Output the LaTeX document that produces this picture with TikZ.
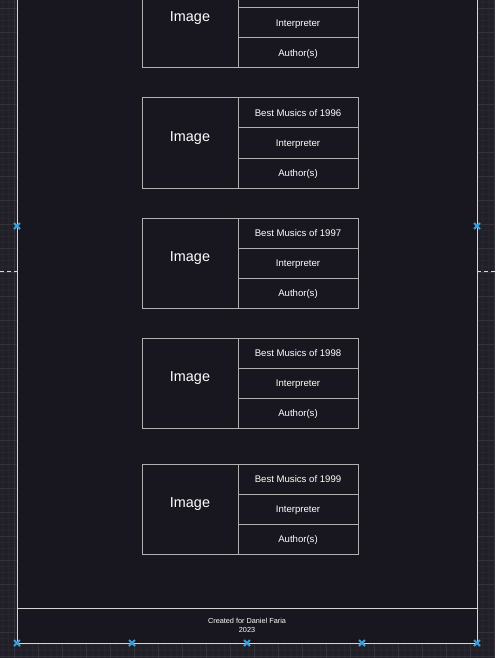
\documentclass[tikz,border=0pt]{standalone}
\usepackage{fontspec}
\setmainfont{Liberation Sans}
\usetikzlibrary{positioning, shapes.misc}
\definecolor{canvasdark}{HTML}{18161F}
\definecolor{canvasgrid}{HTML}{211F27}
\definecolor{gridminor}{HTML}{27252D}
\definecolor{gridmajor}{HTML}{33313A}
\definecolor{framegray}{HTML}{D6D6D6}
\definecolor{cardgray}{HTML}{B0B0B0}
\definecolor{handleblue}{HTML}{3AA0DC}

\begin{document}
\begin{tikzpicture}[
    x=1pt, y=-1pt,
    imgcell/.style={
        draw=cardgray,
        line width=1pt,
        minimum width=96pt,
        minimum height=90pt,
        inner sep=0pt,
        outer sep=0pt,
        text depth=12pt,
        text=white,
        font=\fontsize{14.4}{16}\selectfont
    },
    rowcell/.style={
        draw=cardgray,
        line width=1pt,
        minimum width=120pt,
        minimum height=30pt,
        inner sep=0pt,
        outer sep=0pt,
        text depth=0pt,
        text=white,
        font=\fontsize{9.6}{11}\selectfont
    },
    footer/.style={
        draw=framegray,
        line width=1pt,
        minimum width=460pt,
        minimum height=35pt,
        outer sep=0pt,
        align=center,
        text=white,
        font=\fontsize{7.3}{8.8}\selectfont
    },
    handle/.style={
        cross out,
        draw=handleblue,
        line width=2pt,
        minimum size=4pt,
        inner sep=0pt
    }
]
\useasboundingbox (0,0) rectangle (495,658);

% Canvas grid
\fill[canvasgrid] (0,0) rectangle (495,658);
\foreach \gx in {2,8,...,494} \draw[gridminor, line width=0.5pt] (\gx,0) -- (\gx,658);
\foreach \gy in {2,8,...,656} \draw[gridminor, line width=0.5pt] (0,\gy) -- (495,\gy);
\foreach \gx in {14,38,...,494} \draw[gridmajor, line width=0.8pt] (\gx,0) -- (\gx,658);
\foreach \gy in {8,32,...,656} \draw[gridmajor, line width=0.8pt] (0,\gy) -- (495,\gy);

% Page frame
\draw[framegray, line width=1pt, fill=canvasdark] (17,-10) rectangle (477,643);

% Card (top, cut off)
\node[imgcell] (img1995) at (190,23) {Image};
\node[rowcell, anchor=north west] (title1995) at (img1995.north east) {};
\node[rowcell, below=0pt of title1995] (interp1995) {Interpreter};
\node[rowcell, below=0pt of interp1995] (author1995) {Author(s)};

% Card 1996
\node[imgcell] (img1996) at (190,143) {Image};
\node[rowcell, anchor=north west] (title1996) at (img1996.north east) {Best Musics of 1996};
\node[rowcell, below=0pt of title1996] (interp1996) {Interpreter};
\node[rowcell, below=0pt of interp1996] (author1996) {Author(s)};

% Card 1997
\node[imgcell] (img1997) at (190,263) {Image};
\node[rowcell, anchor=north west] (title1997) at (img1997.north east) {Best Musics of 1997};
\node[rowcell, below=0pt of title1997] (interp1997) {Interpreter};
\node[rowcell, below=0pt of interp1997] (author1997) {Author(s)};

% Card 1998
\node[imgcell] (img1998) at (190,383) {Image};
\node[rowcell, anchor=north west] (title1998) at (img1998.north east) {Best Musics of 1998};
\node[rowcell, below=0pt of title1998] (interp1998) {Interpreter};
\node[rowcell, below=0pt of interp1998] (author1998) {Author(s)};

% Card 1999
\node[imgcell] (img1999) at (190,509) {Image};
\node[rowcell, anchor=north west] (title1999) at (img1999.north east) {Best Musics of 1999};
\node[rowcell, below=0pt of title1999] (interp1999) {Interpreter};
\node[rowcell, below=0pt of interp1999] (author1999) {Author(s)};

% Footer
\node[footer] (credits) at (247,625.5) {Created for Daniel Faria\\2023};

% Guides and handles
\draw[white!85!black, line width=0.8pt, dash pattern=on 4pt off 3pt] (0,271) -- (17,271);
\draw[white!85!black, line width=0.8pt, dash pattern=on 4pt off 3pt] (477,271) -- (495,271);
\foreach \hx/\hy in {17/226, 477/226, 17/643, 132/643, 247/643, 362/643, 477/643}
    \node[handle] (handle-\hx-\hy) at (\hx,\hy) {};

\end{tikzpicture}
\end{document}
